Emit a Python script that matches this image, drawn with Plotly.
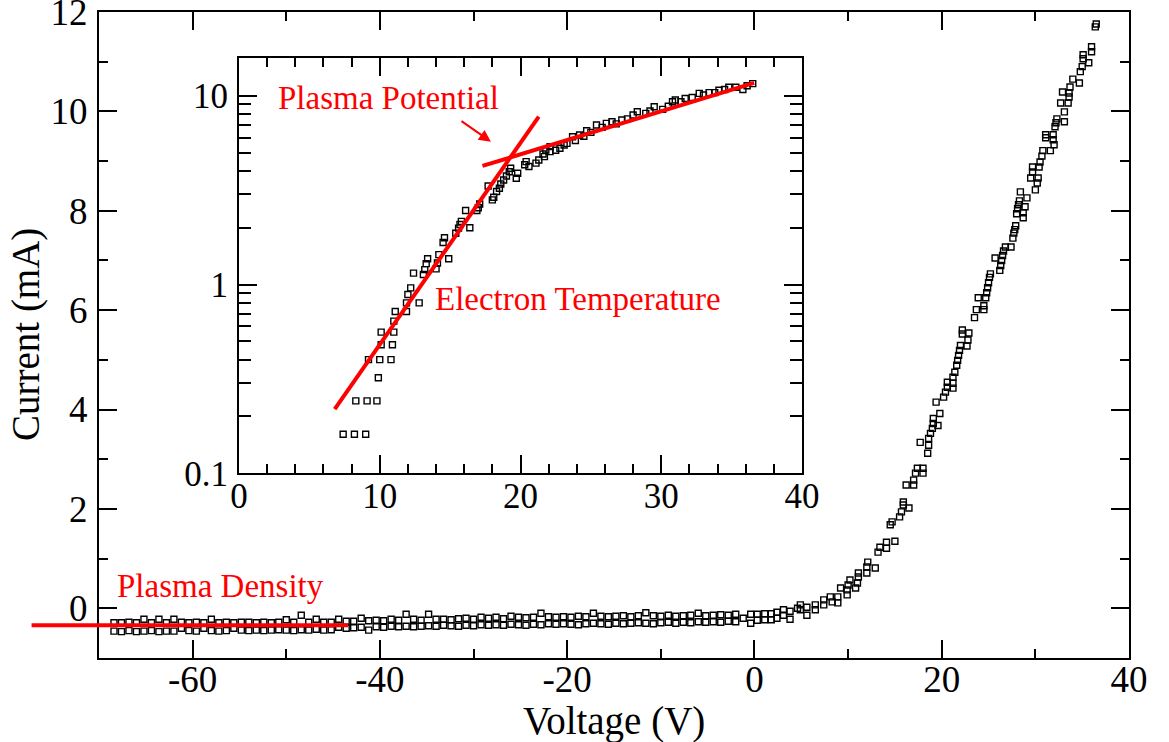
import plotly.graph_objects as go
import math

# ---------------- data ----------------
# Main I-V curve: flat (ion saturation) region, two readings per voltage step
flat_voltage = [
    -68.4, -67.6, -66.8, -66.0, -65.2, -64.4, -63.6, -62.8, -62.0, -61.2,
    -60.4, -59.6, -58.8, -58.0, -57.2, -56.4, -55.6, -54.8, -54.0, -53.2,
    -52.4, -51.6, -50.8, -50.0, -49.2, -48.4, -47.6, -46.8, -46.0, -45.2,
    -44.4, -43.6, -42.8, -42.0, -41.2, -40.4, -39.6, -38.8, -38.0, -37.2,
    -36.4, -35.6, -34.8, -34.0, -33.2, -32.4, -31.6, -30.8, -30.0, -29.2,
    -28.4, -27.6, -26.8, -26.0, -25.2, -24.4, -23.6, -22.8, -22.0, -21.2,
    -20.4, -19.6, -18.8, -18.0, -17.2, -16.4, -15.6, -14.8, -14.0, -13.2,
    -12.4, -11.6, -10.8, -10.0, -9.2, -8.4, -7.6, -6.8, -6.0, -5.2,
    -4.4, -3.6, -2.8, -2.0,
]
flat_current_upper = [
    -0.29, -0.29, -0.28, -0.29, -0.22, -0.29, -0.22, -0.29, -0.22, -0.28,
    -0.29, -0.28, -0.29, -0.22, -0.29, -0.28, -0.29, -0.28, -0.28, -0.29,
    -0.28, -0.29, -0.28, -0.23, -0.28, -0.14, -0.28, -0.22, -0.28, -0.28,
    -0.22, -0.26, -0.26, -0.20, -0.25, -0.24, -0.25, -0.22, -0.24, -0.12,
    -0.22, -0.24, -0.12, -0.22, -0.22, -0.23, -0.21, -0.20, -0.22, -0.18,
    -0.20, -0.18, -0.21, -0.16, -0.18, -0.19, -0.18, -0.10, -0.17, -0.18,
    -0.17, -0.18, -0.16, -0.17, -0.10, -0.16, -0.17, -0.16, -0.15, -0.17,
    -0.15, -0.09, -0.15, -0.16, -0.14, -0.16, -0.15, -0.14, -0.10, -0.15,
    -0.14, -0.13, -0.14, -0.12,
]
flat_current_lower = [
    -0.46, -0.47, -0.45, -0.47, -0.46, -0.45, -0.47, -0.46, -0.46, -0.40,
    -0.45, -0.46, -0.40, -0.45, -0.46, -0.45, -0.40, -0.44, -0.45, -0.44,
    -0.45, -0.44, -0.43, -0.44, -0.45, -0.43, -0.44, -0.42, -0.44, -0.43,
    -0.38, -0.40, -0.39, -0.38, -0.44, -0.37, -0.38, -0.36, -0.37, -0.36,
    -0.37, -0.36, -0.35, -0.36, -0.34, -0.35, -0.36, -0.34, -0.35, -0.33,
    -0.34, -0.33, -0.34, -0.32, -0.33, -0.34, -0.32, -0.33, -0.31, -0.32,
    -0.31, -0.32, -0.33, -0.31, -0.30, -0.31, -0.32, -0.30, -0.31, -0.30,
    -0.29, -0.30, -0.31, -0.29, -0.28, -0.30, -0.28, -0.29, -0.27, -0.28,
    -0.27, -0.28, -0.26, -0.27,
]
# Main I-V curve: transition / electron region
rise_voltage = [
    -1.2, -0.4, -0.4, 0.3, 0.3, 1.1, 1.1, 1.8, 1.8, 2.4,
    2.4, 3.1, 3.1, 3.8, 3.8, 4.6, 4.9, 4.9, 5.6, 5.6,
    6.5, 6.5, 7.4, 7.4, 8.1, 8.3, 8.9, 8.9, 9.2, 9.9,
    9.9, 10.0, 10.2, 10.8, 11.0, 11.1, 11.1, 12.0, 12.0, 12.1,
    12.9, 13.2, 13.4, 14.1, 14.1, 15.0, 14.5, 14.7, 15.5, 15.7,
    15.9, 15.9, 16.5, 16.2, 17.0, 17.0, 17.2, 17.4, 18.0, 18.0,
    17.7, 18.5, 18.6, 18.6, 18.8, 19.0, 19.1, 19.1, 19.6, 19.8,
    19.4, 20.2, 20.4, 20.6, 20.6, 21.2, 21.2, 21.2, 21.4, 21.6,
    21.7, 21.8, 21.9, 22.0, 22.2, 22.2, 22.9, 22.8, 22.7, 23.5,
    23.7, 24.5, 24.5, 23.9, 24.7, 24.8, 24.9, 25.0, 25.1, 25.2,
    25.7, 26.2, 26.3, 26.4, 26.5, 26.6, 26.8, 27.4, 27.6, 27.7,
    27.8, 27.9, 28.0, 28.1, 28.2, 28.3, 28.4, 28.7, 28.7, 28.9,
    29.1, 29.5, 29.7, 29.7, 30.0, 30.2, 30.3, 30.4, 30.5, 30.7,
    30.8, 31.6, 31.1, 31.1, 31.9, 31.9, 32.0, 32.1, 32.2, 32.3,
    33.1, 33.1, 32.7, 33.5, 33.6, 33.6, 33.7, 32.9, 34.0, 34.7,
    34.8, 35.0, 35.1, 35.1, 35.7, 36.0, 36.0, 36.4, 36.5,
]
rise_current = [
    -0.20, -0.30, -0.12, -0.12, -0.24, -0.11, -0.23, -0.11, -0.23, -0.08,
    -0.20, -0.03, -0.14, -0.06, -0.22, 0.00, 0.07, -0.03, -0.14, 0.02,
    0.07, -0.03, 0.17, 0.07, 0.23, 0.13, 0.23, 0.11, 0.41, 0.27,
    0.37, 0.47, 0.57, 0.41, 0.51, 0.63, 0.71, 0.71, 0.83, 0.93,
    0.81, 1.13, 1.23, 1.21, 1.33, 1.35, 1.68, 1.74, 1.84, 1.94,
    2.08, 2.14, 2.02, 2.48, 2.48, 2.58, 2.72, 2.82, 2.82, 2.72,
    3.34, 3.12, 3.28, 3.42, 3.52, 3.62, 3.72, 3.82, 3.68, 3.92,
    4.15, 4.25, 4.35, 4.45, 4.55, 4.43, 4.53, 4.65, 4.75, 4.89,
    4.99, 5.09, 5.19, 5.29, 5.60, 5.52, 5.54, 5.40, 5.28, 5.85,
    6.01, 6.01, 6.09, 6.25, 6.25, 6.35, 6.45, 6.55, 6.66, 6.73,
    7.05, 6.80, 6.90, 7.00, 7.10, 7.19, 7.27, 7.27, 7.45, 7.55,
    7.62, 7.70, 7.94, 8.04, 8.12, 8.20, 8.38, 7.86, 7.96, 8.08,
    8.26, 8.66, 8.78, 8.88, 8.42, 8.56, 8.66, 8.88, 8.98, 9.10,
    9.21, 9.21, 9.47, 9.53, 9.43, 9.53, 9.33, 9.69, 9.77, 9.85,
    9.79, 9.99, 10.17, 10.17, 10.29, 10.37, 10.49, 10.39, 10.65, 10.57,
    10.80, 10.90, 11.06, 11.14, 10.98, 11.20, 11.30, 11.70, 11.76,
]
# Inset: electron current on a log scale
inset_voltage = [
    7.4, 8.2, 9.0, 8.3, 9.1, 9.8, 9.9, 9.2, 10.0, 10.8,
    10.1, 10.9, 10.1, 11.0, 11.0, 11.1, 11.9, 11.9, 12.8, 12.0,
    12.2, 12.4, 13.1, 13.2, 13.3, 13.4, 14.0, 14.1, 14.2, 14.9,
    14.5, 14.6, 15.4, 15.6, 15.7, 15.8, 16.4, 16.1, 16.9, 17.0,
    17.1, 17.7, 18.0, 18.1, 18.3, 18.5, 18.6, 18.8, 19.0, 19.2,
    19.3, 19.7, 19.8, 20.3, 20.4, 20.6, 21.1, 21.3, 21.6, 21.7,
    21.8, 22.1, 22.1, 22.5, 22.8, 23.1, 23.3, 23.7, 23.9, 24.2,
    24.5, 24.7, 25.0, 25.4, 25.8, 26.1, 26.5, 26.8, 27.2, 27.6,
    28.0, 28.3, 28.9, 29.2, 29.5, 30.1, 30.5, 30.8, 31.0, 31.4,
    31.7, 32.2, 32.7, 33.0, 33.4, 33.8, 34.1, 34.5, 34.8, 35.3,
    35.8, 36.1, 36.5,
]
inset_current = [
    0.161, 0.161, 0.161, 0.242, 0.242, 0.242, 0.321, 0.40, 0.40, 0.40,
    0.48, 0.48, 0.56, 0.56, 0.64, 0.72, 0.72, 0.80, 0.80, 0.885,
    0.96, 1.15, 1.13, 1.20, 1.29, 1.37, 1.21, 1.30, 1.44, 1.37,
    1.67, 1.77, 1.87, 1.99, 2.08, 2.16, 2.00, 2.47, 2.47, 2.55,
    2.67, 3.33, 2.81, 2.90, 3.11, 3.24, 3.41, 3.58, 3.76, 3.96,
    4.13, 3.66, 3.89, 4.31, 4.48, 4.22, 4.40, 4.57, 4.92, 4.76,
    5.16, 5.06, 5.38, 5.15, 5.27, 5.49, 5.60, 6.07, 5.80, 6.20,
    6.10, 6.53, 6.40, 7.00, 6.80, 7.14, 7.29, 7.10, 7.44, 7.55,
    7.91, 8.23, 8.07, 8.30, 8.75, 8.47, 8.80, 9.30, 9.50, 9.30,
    9.68, 9.80, 10.30, 10.10, 10.40, 10.40, 10.70, 10.80, 11.10, 11.10,
    10.80, 11.30, 11.60,
]
# Red fit lines
density_fit_voltage = [-77.2, -43.4]
density_fit_current = [-0.34, -0.34]
temperature_fit_voltage = [6.8, 21.3]
temperature_fit_current = [0.219, 7.75]
potential_fit_voltage = [17.3, 36.6]
potential_fit_current = [4.25, 11.7]
# arrow (tail -> head) in inset data coords
arrow_voltage = [15.7, 17.9]
arrow_current = [7.44, 5.71]

# tick labels
main_x_ticks = [-60, -40, -20, 0, 20, 40]
main_x_text = ["-60", "-40", "-20", "0", "20", "40"]
main_y_ticks = [0, 2, 4, 6, 8, 10, 12]
inset_x_ticks = [0, 10, 20, 30, 40]
inset_y_ticks = [0.1, 1, 10]
inset_y_text = ["0.1", "1", "10"]
inset_y_minor = [0.2, 0.3, 0.4, 0.5, 0.6, 0.7, 0.8, 0.9,
                 2, 3, 4, 5, 6, 7, 8, 9]

# ---------------- layout geometry ----------------
W, H = 1169, 742
ML, MR, MT, MB = 20, 40, 12, 84
PW = W - ML - MR
PH = H - MT - MB
AX_LEFT = 99
d0 = (AX_LEFT - ML) / PW
x_range = [-70, 40]
x3_left = x_range[1] - (x_range[1] - x_range[0]) / (1 - d0)

inset_xdom = [(239 - ML) / PW, (802 - ML) / PW]
inset_ydom = [(H - MB - 473.3) / PH, (H - MB - 58.3) / PH]

FONT = "Liberation Serif, Times New Roman, Times, serif"
RED = "#ff0000"

marker = dict(symbol="square-open", size=6, color="black",
              line=dict(width=1.4, color="black"))

fig = go.Figure()
fig.add_trace(go.Scatter(x=flat_voltage, y=flat_current_upper, mode="markers",
                         marker=marker, xaxis="x", yaxis="y"))
fig.add_trace(go.Scatter(x=flat_voltage, y=flat_current_lower, mode="markers",
                         marker=marker, xaxis="x", yaxis="y"))
fig.add_trace(go.Scatter(x=rise_voltage, y=rise_current, mode="markers",
                         marker=marker, xaxis="x", yaxis="y"))
fig.add_trace(go.Scatter(x=inset_voltage, y=inset_current, mode="markers",
                         marker=marker, xaxis="x2", yaxis="y2"))
fig.add_trace(go.Scatter(x=temperature_fit_voltage, y=temperature_fit_current,
                         mode="lines", line=dict(color=RED, width=4),
                         xaxis="x2", yaxis="y2"))
fig.add_trace(go.Scatter(x=potential_fit_voltage, y=potential_fit_current,
                         mode="lines", line=dict(color=RED, width=4),
                         xaxis="x2", yaxis="y2"))
fig.add_trace(go.Scatter(x=density_fit_voltage, y=density_fit_current,
                         mode="lines", line=dict(color=RED, width=4),
                         xaxis="x3", yaxis="y"))

axis_common = dict(showline=True, linecolor="black", linewidth=2,
                   mirror="ticks", ticks="inside", tickcolor="black",
                   tickwidth=2, showgrid=False, zeroline=False,
                   fixedrange=True, ticklabeloverflow="allow",
                   automargin=False)

fig.update_layout(
    width=W, height=H, margin=dict(l=ML, r=MR, t=MT, b=MB, pad=0,
                                   autoexpand=False),
    paper_bgcolor="white", plot_bgcolor="rgba(0,0,0,0)",
    showlegend=False,
    font=dict(family=FONT, color="black"),
    xaxis=dict(domain=[d0, 1], range=x_range, anchor="y",
               tickmode="array", tickvals=main_x_ticks, ticktext=main_x_text,
               ticklen=18, tickfont=dict(size=37, family=FONT),
               ticklabelstandoff=-12,
               minor=dict(dtick=10, tick0=0, ticklen=9, tickwidth=2,
                          ticks="inside", tickcolor="black"),
               **axis_common),
    yaxis=dict(domain=[0, 1], range=[-1, 12], anchor="x",
               tickmode="array", tickvals=main_y_ticks,
               ticklen=18, tickfont=dict(size=37, family=FONT),
               ticklabelstandoff=2,
               minor=dict(dtick=1, tick0=0, ticklen=9, tickwidth=2,
                          ticks="inside", tickcolor="black"),
               **axis_common),
    xaxis2=dict(domain=inset_xdom, range=[0, 40], anchor="y2",
                tickmode="array", tickvals=inset_x_ticks,
                ticklen=18, tickfont=dict(size=35, family=FONT),
                ticklabelstandoff=-9,
                minor=dict(dtick=2, tick0=0, ticklen=9, tickwidth=2,
                           ticks="inside", tickcolor="black"),
                **axis_common),
    yaxis2=dict(domain=inset_ydom, type="log",
                range=[-1, math.log10(15.8)], anchor="x2",
                tickmode="array", tickvals=inset_y_ticks, ticktext=inset_y_text,
                ticklen=18, tickfont=dict(size=35, family=FONT),
                ticklabelstandoff=2,
                minor=dict(tickmode="array", tickvals=inset_y_minor,
                           ticklen=12, tickwidth=2,
                           ticks="inside", tickcolor="black"),
                **axis_common),
    xaxis3=dict(domain=[0, 1], range=[x3_left, x_range[1]], anchor="y",
                visible=False, fixedrange=True, automargin=False),
)

ann_font = dict(family=FONT, size=33, color=RED)
fig.add_annotation(text="Plasma Potential", xref="x2", yref="y2",
                   x=2.62, y=0.988, xanchor="left", yanchor="middle",
                   showarrow=False, font=ann_font)
fig.add_annotation(text="Electron Temperature", xref="x2", yref="y2",
                   x=13.76, y=-0.079, xanchor="left", yanchor="middle",
                   showarrow=False, font=ann_font)
fig.add_annotation(text="Plasma Density", xref="x", yref="y",
                   x=-68.3, y=0.45, xanchor="left", yanchor="middle",
                   showarrow=False, font=ann_font)
fig.add_annotation(text="", xref="x2", yref="y2", axref="x2", ayref="y2",
                   x=arrow_voltage[1], y=math.log10(arrow_current[1]),
                   ax=arrow_voltage[0], ay=math.log10(arrow_current[0]),
                   showarrow=True, arrowhead=2, arrowsize=1.2, arrowwidth=2,
                   arrowcolor=RED)
# axis titles
fig.add_annotation(text="Voltage (V)", xref="x domain", yref="paper",
                   x=0.5, y=-(721 - (H - MB)) / PH, xanchor="center",
                   yanchor="middle", showarrow=False,
                   font=dict(family=FONT, size=39, color="black"))
fig.add_annotation(text="Current (mA)", xref="paper", yref="y domain",
                   x=(26 - ML) / PW, y=0.5, xanchor="center",
                   yanchor="middle", textangle=-90, showarrow=False,
                   font=dict(family=FONT, size=39, color="black"))

fig.write_html("out.html")
